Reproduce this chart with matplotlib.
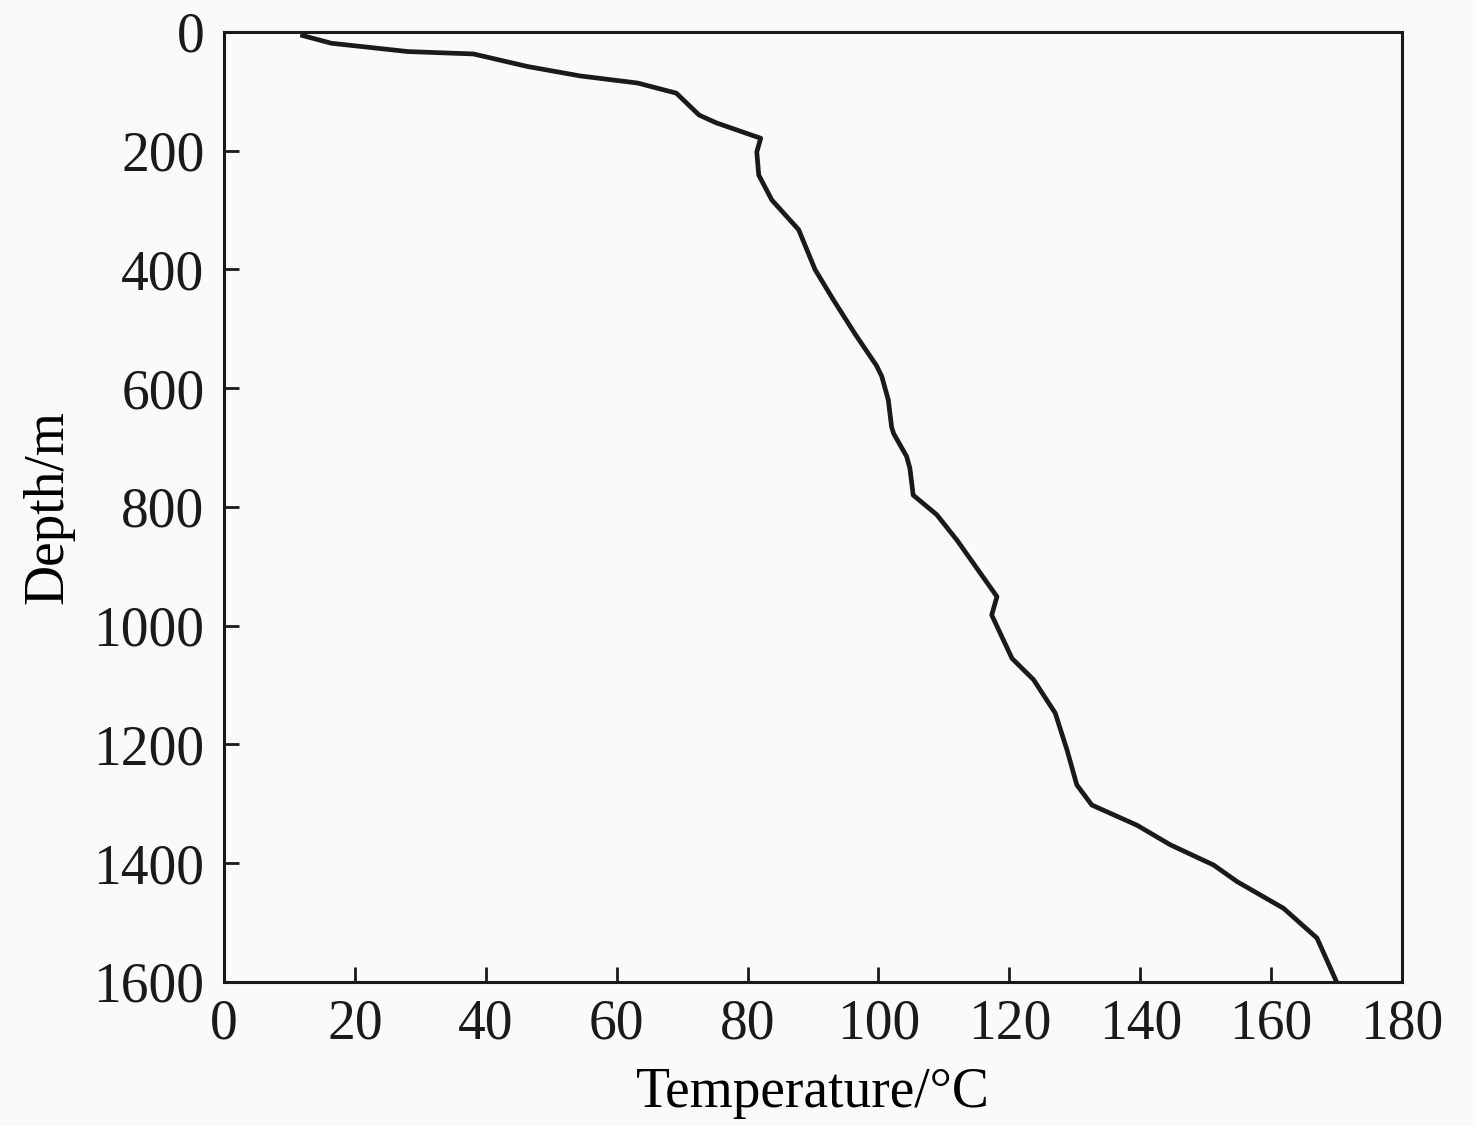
import matplotlib
matplotlib.use('Agg')
import matplotlib.pyplot as plt

# Temperature log
temperature = [12.0, 16.4, 28.1, 38.1, 46.3, 54.4, 63.2, 69.1, 72.6, 75.2, 82.0, 81.4, 81.7,
               83.7, 87.8, 90.3, 93.1, 96.5, 99.7, 100.5, 101.5, 102.0, 102.3, 104.3, 104.8,
               105.3, 108.9, 112.0, 118.1, 117.3, 120.4, 123.7, 127.0, 128.8, 130.3, 132.6,
               139.5, 144.6, 151.2, 154.8, 161.9, 167.0, 170.0]
depth = [6, 19, 33, 37, 58, 74, 86, 103, 140, 153, 179, 202, 241,
         283, 333, 400, 451, 510, 562, 580, 620, 665, 676, 715, 735,
         780, 813, 856, 951, 982, 1055, 1091, 1147, 1209, 1268, 1302,
         1336, 1369, 1403, 1431, 1476, 1526, 1600]

x_ticks = list(range(0, 181, 20))
y_ticks = list(range(0, 1601, 200))

plt.rcParams['font.family'] = ['Liberation Serif', 'DejaVu Serif']

fig = plt.figure(figsize=(14.76, 11.26), dpi=100, facecolor='#fafafa')
ax = fig.add_axes([0.1518, 0.1279, 0.7981, 0.8437])
ax.set_facecolor('#fafafa')

ax.plot(temperature, depth, color='#1a1a1a', linewidth=3.4, solid_joinstyle='round')

ax.set_xlim(0, 180)
ax.set_ylim(1600, 0)
ax.set_xticks(x_ticks)
ax.set_yticks(y_ticks)
ax.tick_params(direction='in', length=11, width=2, labelsize=40, colors='#1a1a1a')
ax.tick_params(axis='y', pad=14)
ax.tick_params(axis='x', pad=12)
for s in ax.spines.values():
    s.set_linewidth(2.2)
    s.set_color('#1a1a1a')

ax.set_xlabel('Temperature/°C', fontsize=40, labelpad=12)
ax.set_ylabel('Depth/m', fontsize=40, labelpad=14)

fig.savefig('out.png', dpi=100, facecolor=fig.get_facecolor())
